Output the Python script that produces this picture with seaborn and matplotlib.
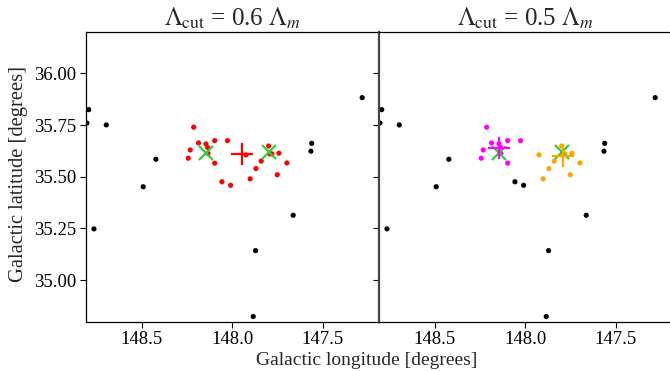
import numpy as np
import pandas as pd
import matplotlib
matplotlib.use("Agg")
import matplotlib.pyplot as plt
import seaborn as sns

# Galactic coordinates of the stars in the field (degrees)
lon = [148.794, 148.804, 148.697, 148.765, 148.423, 148.493, 147.283, 147.562,
       147.566, 147.664, 147.872, 147.885,
       148.214, 148.187, 148.233, 148.244, 148.146, 148.137, 148.135, 148.098,
       148.098, 148.027,
       148.058, 148.010,
       147.925, 147.870, 147.902, 147.841, 147.800, 147.793, 147.782, 147.743,
       147.699, 147.752]
lat = [35.825, 35.760, 35.751, 35.248, 35.585, 35.452, 35.883, 35.662,
       35.624, 35.314, 35.143, 34.824,
       35.740, 35.664, 35.630, 35.590, 35.659, 35.642, 35.613, 35.675,
       35.566, 35.675,
       35.476, 35.459,
       35.606, 35.540, 35.490, 35.576, 35.649, 35.611, 35.611, 35.614,
       35.567, 35.510]

# Group membership for each cut (0 = field star)
groups_06 = [0] * 12 + [1] * 10 + [1] * 2 + [1] * 10
groups_05 = [0] * 12 + [1] * 10 + [0] * 2 + [2] * 10

# True centres of the two substructures
true_lon = [148.146, 147.800]
true_lat = [35.613, 35.618]

# Recovered group centres
cen_06_lon = [147.946]
cen_06_lat = [35.608]
cen_05_lon = [148.145, 147.792]
cen_05_lat = [35.640, 35.602]

titles = [r"$\Lambda_{\rm cut}$ = 0.6 $\Lambda_m$",
          r"$\Lambda_{\rm cut}$ = 0.5 $\Lambda_m$"]
xticks = [148.5, 148.0, 147.5]
yticks = [35.00, 35.25, 35.50, 35.75, 36.00]

sns.set_style("ticks")
plt.rcParams["font.family"] = ["Liberation Serif", "DejaVu Serif"]
plt.rcParams["mathtext.fontset"] = "stix"

W, H = 670, 371
fig = plt.figure(figsize=(W / 100, H / 100), dpi=100)
ax1 = fig.add_axes([86 / W, (H - 321.5) / H, 293 / W, 290 / H])
ax2 = fig.add_axes([379 / W, (H - 321.5) / H, 293 / W, 290 / H], sharey=ax1)

df = pd.DataFrame({"lon": lon, "lat": lat, "g06": groups_06, "g05": groups_05})

panels = [
    (ax1, "g06", {0: "black", 1: "red"}, cen_06_lon, cen_06_lat, ["red"]),
    (ax2, "g05", {0: "black", 1: "magenta", 2: "orange"}, cen_05_lon, cen_05_lat,
     ["magenta", "orange"]),
]

for ax, col, pal, clon, clat, ccols, title in [p + (t,) for p, t in zip(panels, titles)]:
    sns.scatterplot(data=df, x="lon", y="lat", hue=col, palette=pal, s=14,
                    linewidth=0, legend=False, ax=ax, zorder=2)
    ax.plot(true_lon, true_lat, ls="none", marker="x", ms=10, mew=1.6,
            color="#33cc33", zorder=3)
    for x, y, c in zip(clon, clat, ccols):
        ax.plot([x], [y], ls="none", marker="+", ms=16, mew=1.6, color=c, zorder=4)
    ax.set_xlim(148.809, 147.19)
    ax.set_ylim(34.80, 36.203)
    ax.set_xticks(xticks)
    ax.set_xticklabels([f"{v:.1f}" for v in xticks])
    ax.set_yticks(yticks)
    ax.set_xlabel("")
    ax.set_ylabel("")
    ax.set_title(title, fontsize=18, pad=4)
    ax.tick_params(direction="out", length=4, width=0.8, labelsize=13.5,
                   colors="black", pad=3)
    for s in ax.spines.values():
        s.set_color("black")
        s.set_linewidth(0.9)

ax1.set_yticklabels([f"{v:.2f}" for v in yticks])
ax1.spines["right"].set_visible(False)
ax2.tick_params(labelleft=False)
ax2.spines["left"].set_color("#444444")
ax2.spines["left"].set_linewidth(1.6)

fig.text(367 / W, (H - 365) / H, "Galactic longitude [degrees]", ha="center",
         va="baseline", fontsize=14)
fig.text(19 / W, (H - 174) / H, "Galactic latitude [degrees]", ha="center",
         va="center", rotation=90, fontsize=14.8)

fig.savefig("out.png", dpi=100)
